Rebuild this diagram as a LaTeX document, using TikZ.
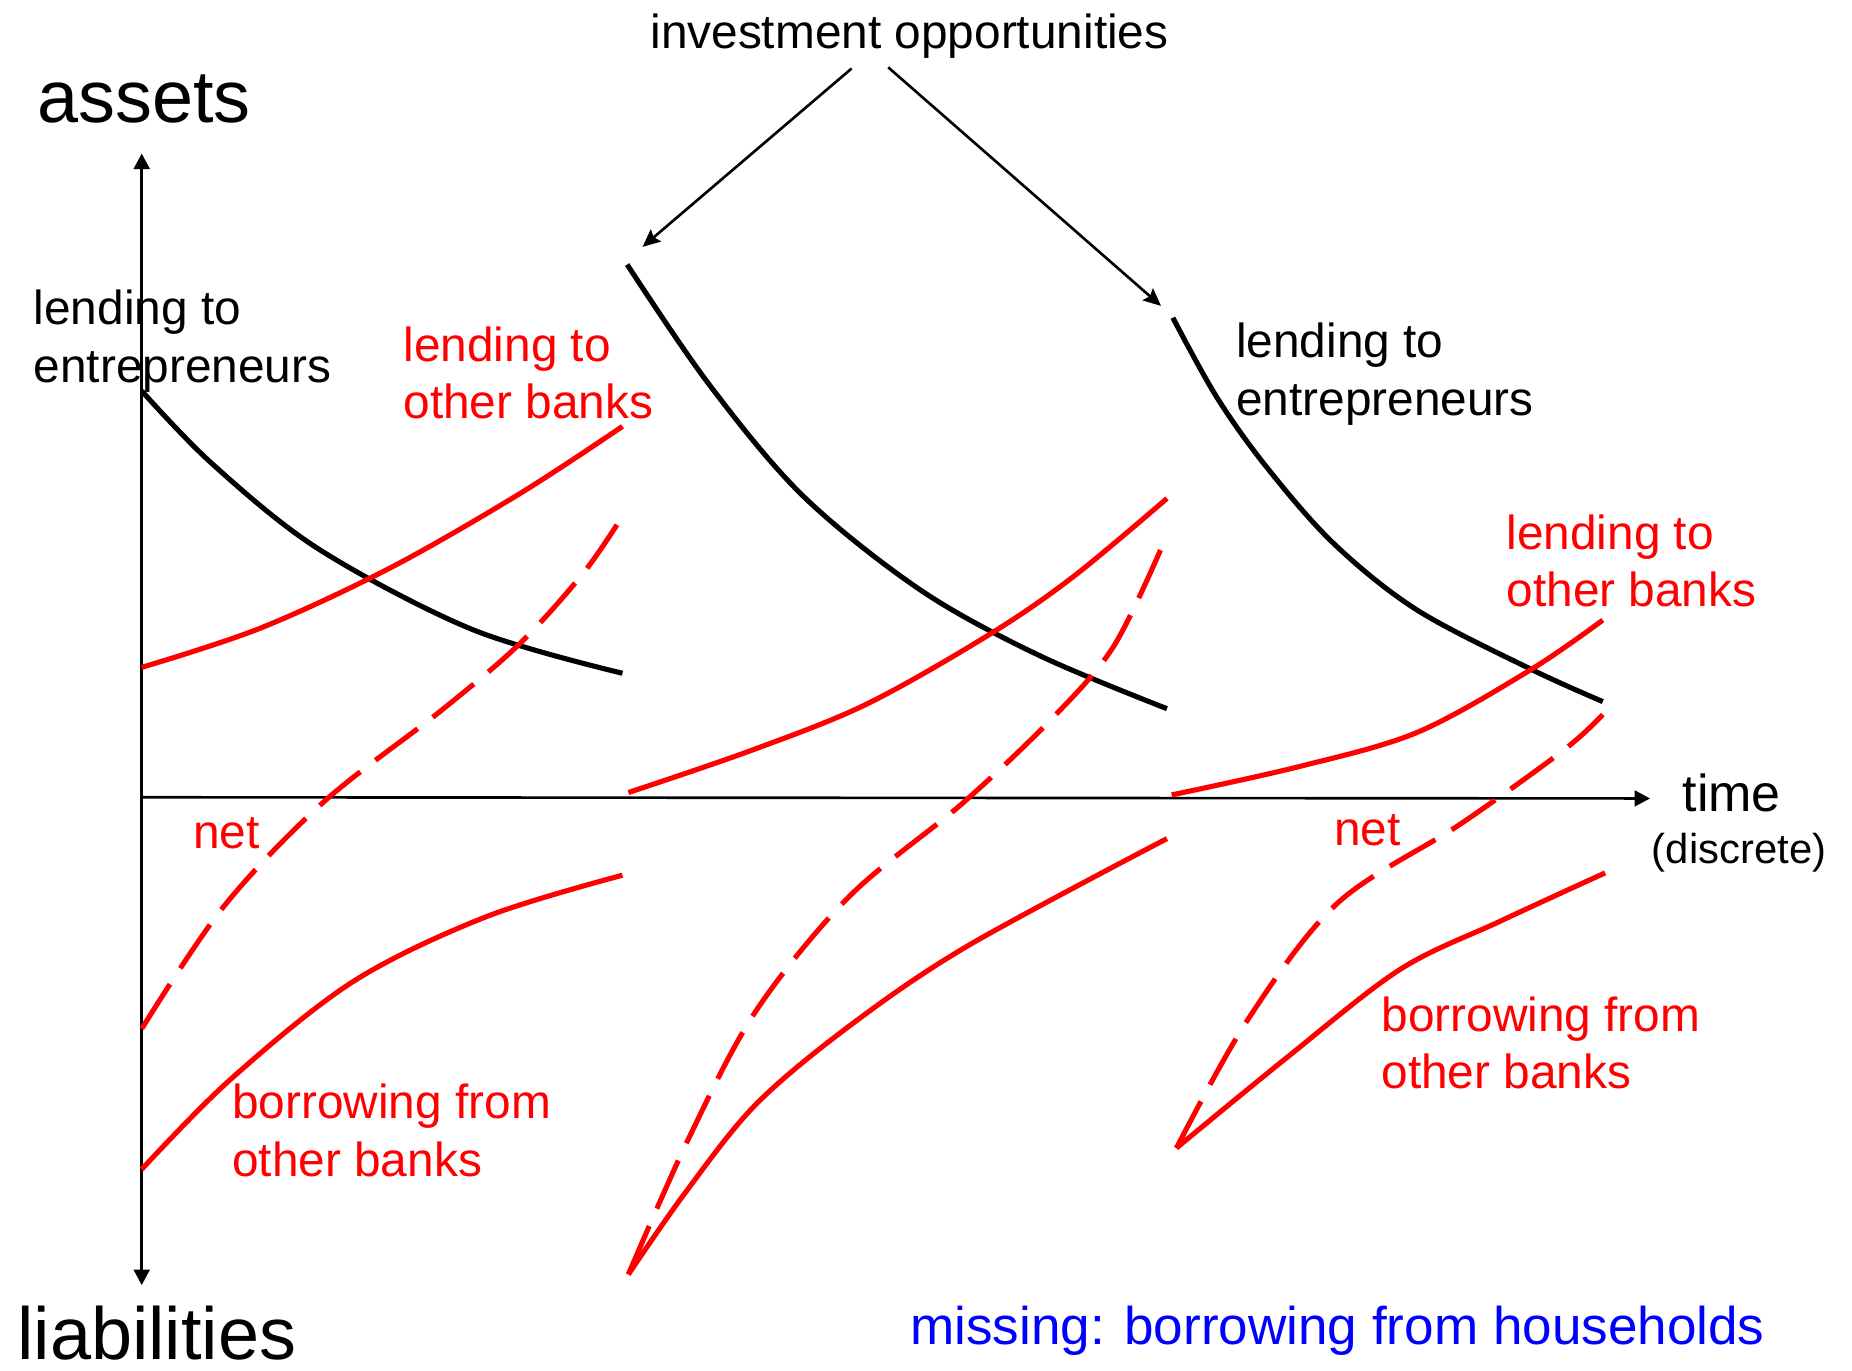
\documentclass[tikz,border=0pt]{standalone}
\usepackage{fontspec}
\setmainfont{Liberation Sans}
\usepackage{tikz}
\usetikzlibrary{arrows.meta,positioning,calc}

\begin{document}
\begin{tikzpicture}[
  x=0.11811mm, y=-0.11811mm,
  lab/.style={inner sep=0pt, align=left, font=\fontsize{13.6}{16.4}\selectfont},
  redlab/.style={lab, text=red},
  big/.style={inner sep=0pt, font=\fontsize{21}{25}\selectfont},
  axis/.style={line width=0.75pt},
  axtip/.style={-{Triangle[length=4.4pt,width=4.5pt]}},
  arrow/.style={-{Stealth[length=5pt,width=4.5pt,inset=0.8pt]}, line width=0.75pt},
  ent/.style={line width=1.45pt, black},
  bank/.style={line width=1.45pt, red},
  net/.style={bank, dash pattern=on 15pt off 5.4pt}
]
\useasboundingbox (0,0) rectangle (1568,1160);

% Axes
\coordinate (origin) at (120,675);
\coordinate (ytop) at (120,130);
\coordinate (ybot) at (120,1088);
\coordinate (xend) at (1397,676);
\draw[axis, {Triangle[length=4.4pt,width=4.5pt]}-{Triangle[length=4.4pt,width=4.5pt]}] (ybot) -- (ytop);
\draw[axis, axtip] (origin) -- (xend);

\node[big, anchor=base west] (assets) at (31,104) {assets};
\node[big, anchor=base west] (liab) at (14,1151) {liabilities};
\node[inner sep=0pt, anchor=base west, font=\fontsize{14.8}{17}\selectfont] (time) at (1424,687) {time};
\node[inner sep=0pt, anchor=base west, font=\fontsize{11.9}{14}\selectfont] (discrete) at (1398,731) {(discrete)};

% Period 1
\draw[ent] plot[smooth, tension=0.55] coordinates {(120,331) (180,393) (270,465) (400,533) (527,570)};
\draw[bank] plot[smooth, tension=0.55] coordinates {(120,565) (220,532) (330,481) (440,418) (527,361)};
\draw[net] plot[smooth, tension=0.55] coordinates {(120,871) (189,768) (274,679) (373,602) (440,545) (494,485) (527,437)};
\draw[bank] plot[smooth, tension=0.55] coordinates {(120,990) (195,914) (299,831) (412,776) (527,741)};

% Period 2
\draw[ent] plot[smooth, tension=0.55] coordinates {(531,224) (600,325) (680,420) (780,500) (880,555) (988,600)};
\draw[bank] plot[smooth, tension=0.55] coordinates {(532,671) (637,635) (734,596) (838,537) (909,488) (988,422)};
\draw[net] plot[smooth, tension=0.55] coordinates {(532,1079) (583,964) (640,856) (719,759) (815,680) (891,608) (943,547) (985,460)};
\draw[bank] plot[smooth, tension=0.55] coordinates {(532,1079) (580,1010) (640,935) (720,868) (819,801) (988,710)};

% Period 3
\draw[ent] plot[smooth, tension=0.55] coordinates {(993,269) (1030,336) (1072,395) (1129,460) (1199,516) (1295,566) (1357,594)};
\draw[bank] plot[smooth, tension=0.55] coordinates {(992,673) (1100,649) (1200,620) (1296,567) (1357,525)};
\draw[net] plot[smooth, tension=0.55] coordinates {(996,972) (1056,864) (1132,765) (1236,698) (1324,635) (1357,605)};
\draw[bank] plot[smooth, tension=0.55] coordinates {(996,972) (1090,895) (1185,821) (1270,780) (1359,739)};

% Labels
\node[lab, anchor=north west] (entA) at (28,245) {lending to\\entrepreneurs};
\node[redlab, anchor=north west] (bankA) at (341,276) {lending to\\other banks};
\node[lab, anchor=north west] (entC) at (1046,273) {lending to\\entrepreneurs};
\node[redlab, anchor=north west] (bankC) at (1275,435) {lending to\\other banks};
\node[redlab, anchor=base west] (netA) at (163,718) {net};
\node[redlab, anchor=base west] (netC) at (1129,716) {net};
\node[redlab, anchor=north west] (borrowA) at (196,917) {borrowing from\\other banks};
\node[redlab, anchor=north west] (borrowC) at (1169,843) {borrowing from\\other banks};
\node[inner sep=0pt, anchor=base west, text=blue, font=\fontsize{15.1}{18}\selectfont] (missing) at (770,1138) {missing: borrowing from households};

% Arrows
\node[lab, anchor=base] (invest) at (770,41) {investment opportunities};
\coordinate (tipB) at (544,209);
\coordinate (tipC) at (983,259);
\draw[arrow] ($(invest.south)+(-49,8)$) -- (tipB);
\draw[arrow] ($(invest.south)+(-18,7)$) -- (tipC);

\end{tikzpicture}
\end{document}
